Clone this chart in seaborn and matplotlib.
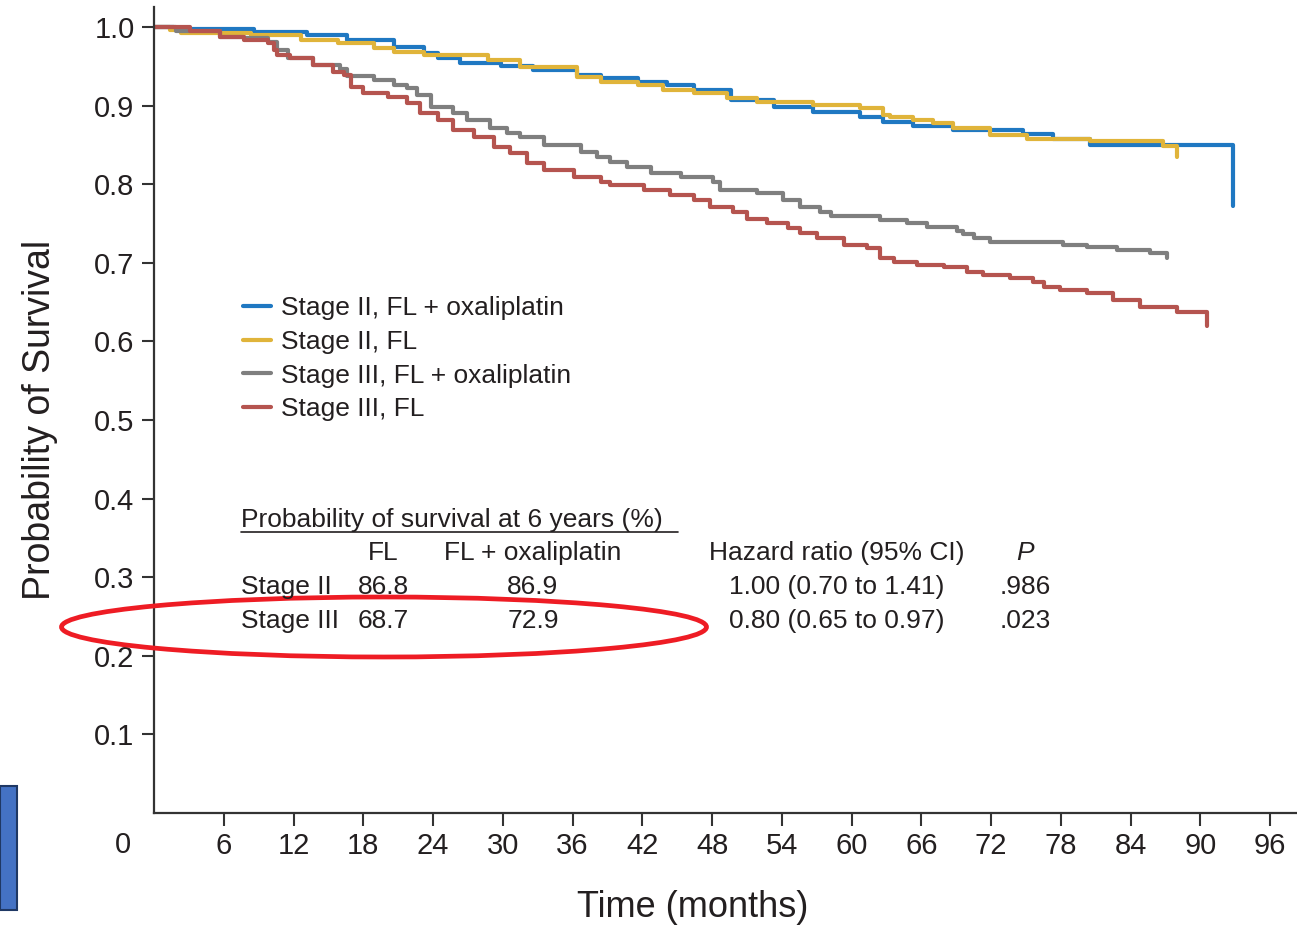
import numpy as np
import pandas as pd
import matplotlib
matplotlib.use("Agg")
import matplotlib.pyplot as plt
from matplotlib.patches import Ellipse, Rectangle
from matplotlib.lines import Line2D
import seaborn as sns

# ---------------- data ----------------
groups = ["Stage II, FL + oxaliplatin", "Stage II, FL",
          "Stage III, FL + oxaliplatin", "Stage III, FL"]

st2_ox_months = [0, 1.7, 8.6, 13.2, 16.6, 20.6, 23.2, 24.4, 26.3, 29.8, 32.6, 36.4, 38.4,
                 41.6, 44.1, 46.4, 49.6, 53.3, 56.7, 60.7, 62.7, 65.3, 68.7, 74.7, 77.3,
                 80.5, 92.8]
st2_ox_surv = [1.0, 0.998, 0.994, 0.990, 0.983, 0.975, 0.967, 0.961, 0.954, 0.950, 0.945,
               0.939, 0.935, 0.930, 0.926, 0.920, 0.907, 0.898, 0.892, 0.885, 0.879, 0.874,
               0.869, 0.864, 0.858, 0.850, 0.772]

st2_fl_months = [0, 1.4, 2.3, 8.3, 12.6, 15.8, 18.9, 20.6, 23.2, 28.7, 31.5, 36.4, 38.4,
                 41.6, 43.8, 46.4, 49.3, 51.9, 56.7, 60.7, 62.7, 63.3, 65.3, 67.0, 68.7,
                 71.9, 75.1, 80.5, 86.8, 88.0]
st2_fl_surv = [1.0, 0.996, 0.992, 0.990, 0.983, 0.980, 0.973, 0.968, 0.964, 0.958, 0.949,
               0.936, 0.930, 0.926, 0.920, 0.916, 0.910, 0.905, 0.901, 0.897, 0.888, 0.885,
               0.882, 0.878, 0.872, 0.863, 0.857, 0.855, 0.848, 0.834]

st3_ox_months = [0, 1.9, 5.7, 7.7, 9.8, 10.6, 11.5, 13.7, 16.0, 16.6, 18.9, 20.6, 21.8,
                 22.6, 23.8, 25.7, 26.9, 28.9, 30.4, 31.5, 33.5, 36.7, 38.1, 39.2, 40.7,
                 42.7, 45.3, 48.1, 48.7, 51.9, 54.1, 55.6, 57.3, 58.2, 62.4, 64.8, 66.5,
                 69.1, 69.6, 70.5, 71.9, 78.2, 80.2, 82.8, 85.7, 87.1]
st3_ox_surv = [1.0, 0.995, 0.987, 0.986, 0.981, 0.971, 0.961, 0.952, 0.946, 0.938, 0.933,
               0.926, 0.922, 0.913, 0.898, 0.891, 0.882, 0.872, 0.865, 0.860, 0.850, 0.841,
               0.835, 0.828, 0.822, 0.814, 0.809, 0.803, 0.793, 0.789, 0.780, 0.771, 0.764,
               0.760, 0.755, 0.751, 0.745, 0.740, 0.736, 0.732, 0.727, 0.723, 0.720, 0.716,
               0.712, 0.706]

st3_fl_months = [0, 3.1, 5.7, 7.7, 9.8, 10.3, 10.6, 11.7, 13.7, 15.4, 16.3, 16.9, 18.0,
                 20.1, 21.8, 22.9, 24.4, 25.7, 27.5, 29.2, 30.6, 32.1, 33.5, 36.1, 38.4,
                 39.2, 42.1, 44.4, 46.4, 47.8, 49.8, 51.0, 52.7, 54.5, 55.6, 57.0, 59.3,
                 61.3, 62.4, 63.6, 65.6, 67.9, 69.9, 71.3, 73.6, 75.6, 76.5, 77.9, 80.2,
                 82.5, 84.8, 88.0, 90.6]
st3_fl_surv = [1.0, 0.995, 0.987, 0.983, 0.980, 0.971, 0.964, 0.961, 0.952, 0.943, 0.939,
               0.924, 0.916, 0.911, 0.903, 0.891, 0.882, 0.869, 0.860, 0.847, 0.840, 0.827,
               0.818, 0.809, 0.803, 0.799, 0.793, 0.786, 0.780, 0.771, 0.764, 0.756, 0.750,
               0.744, 0.738, 0.731, 0.723, 0.719, 0.706, 0.701, 0.697, 0.695, 0.688, 0.684,
               0.681, 0.676, 0.669, 0.665, 0.662, 0.653, 0.644, 0.637, 0.620]

x_ticks = [6, 12, 18, 24, 30, 36, 42, 48, 54, 60, 66, 72, 78, 84, 90, 96]
y_ticks = [0.1, 0.2, 0.3, 0.4, 0.5, 0.6, 0.7, 0.8, 0.9, 1.0]
y_tick_labels = ["0.1", "0.2", "0.3", "0.4", "0.5", "0.6", "0.7", "0.8", "0.9", "1.0"]

table_title = "Probability of survival at 6 years (%)"
table_cols = ["FL", "FL + oxaliplatin", "Hazard ratio (95% CI)", "P"]
table_rows = ["Stage II", "Stage III"]
fl_6yr = ["86.8", "68.7"]
flox_6yr = ["86.9", "72.9"]
hr_ci = ["1.00 (0.70 to 1.41)", "0.80 (0.65 to 0.97)"]
p_values = [".986", ".023"]

colors = ["#1f78c2", "#e0b43a", "#7f7f7f", "#b5544f"]

# ---------------- figure ----------------
sns.set_style("ticks")
plt.rcParams["font.family"] = ["Liberation Sans", "DejaVu Sans"]
TXT = "#231f20"

W, H = 1297, 925
fig = plt.figure(figsize=(W / 100, H / 100), dpi=100)
ax = fig.add_axes([154 / W, (H - 813) / H, (W - 154) / W, (813 - 7) / H])

def fx(x):
    return x / W

def fy(y):
    return 1 - y / H

frames = []
for g, m, s in [(groups[0], st2_ox_months, st2_ox_surv),
                (groups[1], st2_fl_months, st2_fl_surv),
                (groups[2], st3_ox_months, st3_ox_surv),
                (groups[3], st3_fl_months, st3_fl_surv)]:
    frames.append(pd.DataFrame({"month": m, "surv": s, "group": g}))
df = pd.concat(frames, ignore_index=True)

sns.lineplot(data=df, x="month", y="surv", hue="group", hue_order=groups,
             palette=dict(zip(groups, colors)), estimator=None, sort=False,
             drawstyle="steps-post", linewidth=3.0, ax=ax, legend=True)

ax.set_xlim(0, 98.3)
ax.set_ylim(0, 1.0254)
ax.set_xticks(x_ticks)
ax.set_xticklabels([str(t) for t in x_ticks])
ax.set_yticks(y_ticks)
ax.set_yticklabels(y_tick_labels)
ax.tick_params(axis="both", labelsize=21, length=9, width=1.5, pad=5,
               colors="#333333", labelcolor=TXT)
for sp in ["top", "right"]:
    ax.spines[sp].set_visible(False)
for sp in ["left", "bottom"]:
    ax.spines[sp].set_linewidth(1.6)
    ax.spines[sp].set_color("#333333")

ax.set_xlabel("Time (months)", fontsize=26, color=TXT)
ax.set_ylabel("Probability of Survival", fontsize=27, color=TXT)
ax.xaxis.set_label_coords((693 - 154) / (W - 154), (813 - 890) / 806)
ax.yaxis.set_label_coords((58 - 154) / (W - 154), (813 - 420) / 806)

fig.text(fx(123), fy(845), "0", fontsize=21, color=TXT, ha="center", va="center")

# legend
leg = ax.get_legend()
handles = list(leg.legend_handles)
labels = [t.get_text() for t in leg.get_texts()]
leg.remove()
for h in handles:
    h.set_linewidth(3)
ax.legend(handles, labels, loc="upper left", bbox_to_anchor=(fx(243), fy(296)),
          bbox_transform=fig.transFigure, frameon=False, fontsize=19,
          handlelength=1.05, handletextpad=0.4, labelspacing=0.37,
          borderpad=0, borderaxespad=0, labelcolor=TXT)

# table
fs = 19
fig.text(fx(241), fy(520), table_title, fontsize=fs, color=TXT, ha="left", va="center")
fig.add_artist(Line2D([fx(241), fx(678)], [fy(532), fy(532)], color=TXT, lw=1.2))
col_x = [383, 533, 837, 1025]
for cx, c in zip(col_x, table_cols):
    fig.text(fx(cx), fy(553), c, fontsize=fs, color=TXT, ha="center", va="center",
             style="italic" if c == "P" else "normal")
for i, r in enumerate(table_rows):
    yy = 587 + 34 * i
    fig.text(fx(241), fy(yy), r, fontsize=fs, color=TXT, ha="left", va="center")
    fig.text(fx(383), fy(yy), fl_6yr[i], fontsize=fs, color=TXT, ha="center", va="center")
    fig.text(fx(533), fy(yy), flox_6yr[i], fontsize=fs, color=TXT, ha="center", va="center")
    fig.text(fx(837), fy(yy), hr_ci[i], fontsize=fs, color=TXT, ha="center", va="center")
    fig.text(fx(1025), fy(yy), p_values[i], fontsize=fs, color=TXT, ha="center", va="center")

# red ellipse annotation
fig.add_artist(Ellipse((fx(384), fy(627)), 645 / W, 60 / H, transform=fig.transFigure,
                       fill=False, edgecolor="#ee1c24", linewidth=3.4))

# blue rectangle at bottom-left
fig.add_artist(Rectangle((fx(0), fy(910)), 17 / W, 124 / H, transform=fig.transFigure,
                         facecolor="#4472c4", edgecolor="#1f3864", linewidth=1.5))

fig.savefig("out.png", dpi=100)
